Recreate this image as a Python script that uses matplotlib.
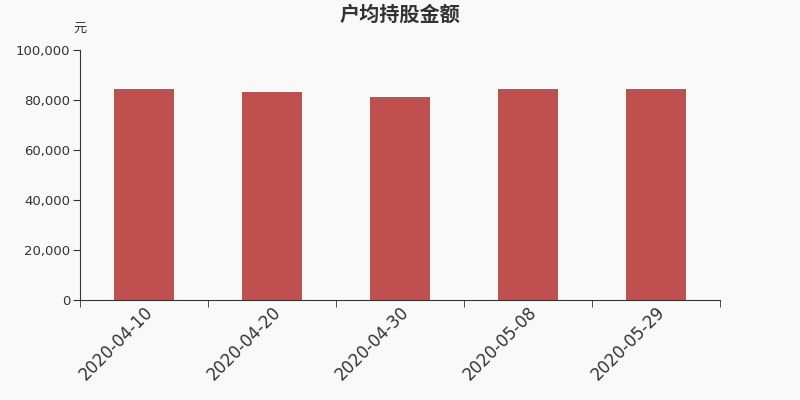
import matplotlib
matplotlib.use("Agg")
import matplotlib.pyplot as plt
import numpy as np
from matplotlib.ticker import FuncFormatter, FixedLocator

plt.rcParams['font.family'] = ['DejaVu Sans', 'Noto Sans CJK SC']

# data
dates = ["2020-04-10", "2020-04-20", "2020-04-30", "2020-05-08", "2020-05-29"]
amounts = [84400, 83200, 81100, 84400, 84300]

bg = "#f9f9f9"
bar_color = "#c0504d"
axis_color = "#333333"

fig = plt.figure(figsize=(8, 4), dpi=100, facecolor=bg)
ax = fig.add_axes([0.1, 0.25, 0.8, 0.625], facecolor=bg)

x = np.arange(len(dates))
ax.bar(x, amounts, width=0.47, color=bar_color)

ax.set_xlim(-0.5, len(dates) - 0.5)
ax.set_ylim(0, 100000)
ax.set_yticks(np.arange(0, 100001, 20000))
ax.yaxis.set_major_formatter(FuncFormatter(lambda v, p: f"{int(v):,}"))

ax.set_xticks(x)
ax.set_xticklabels(dates, rotation=45, ha="right", rotation_mode="anchor",
                   fontsize=12, color=axis_color)
ax.xaxis.set_minor_locator(FixedLocator(np.arange(-0.5, len(dates), 1)))
ax.tick_params(axis="x", which="major", length=0, pad=2)
ax.tick_params(axis="x", which="minor", length=5, color=axis_color)
ax.tick_params(axis="y", length=5, pad=2, color=axis_color, labelsize=9.5, labelcolor=axis_color)

for s in ["top", "right"]:
    ax.spines[s].set_visible(False)
for s in ["left", "bottom"]:
    ax.spines[s].set_color(axis_color)

fig.text(0.5, 1 - 14 / 400, "户均持股金额", fontsize=14.5, fontweight="bold", color=axis_color,
         ha="center", va="center", family=['Noto Sans CJK SC', 'DejaVu Sans'])
fig.text(80 / 800, 1 - 28 / 400, "元", fontsize=9.5, color=axis_color,
         ha="center", va="center", family=['Noto Sans CJK SC', 'DejaVu Sans'])

fig.savefig("out.png", dpi=100, facecolor=bg)
